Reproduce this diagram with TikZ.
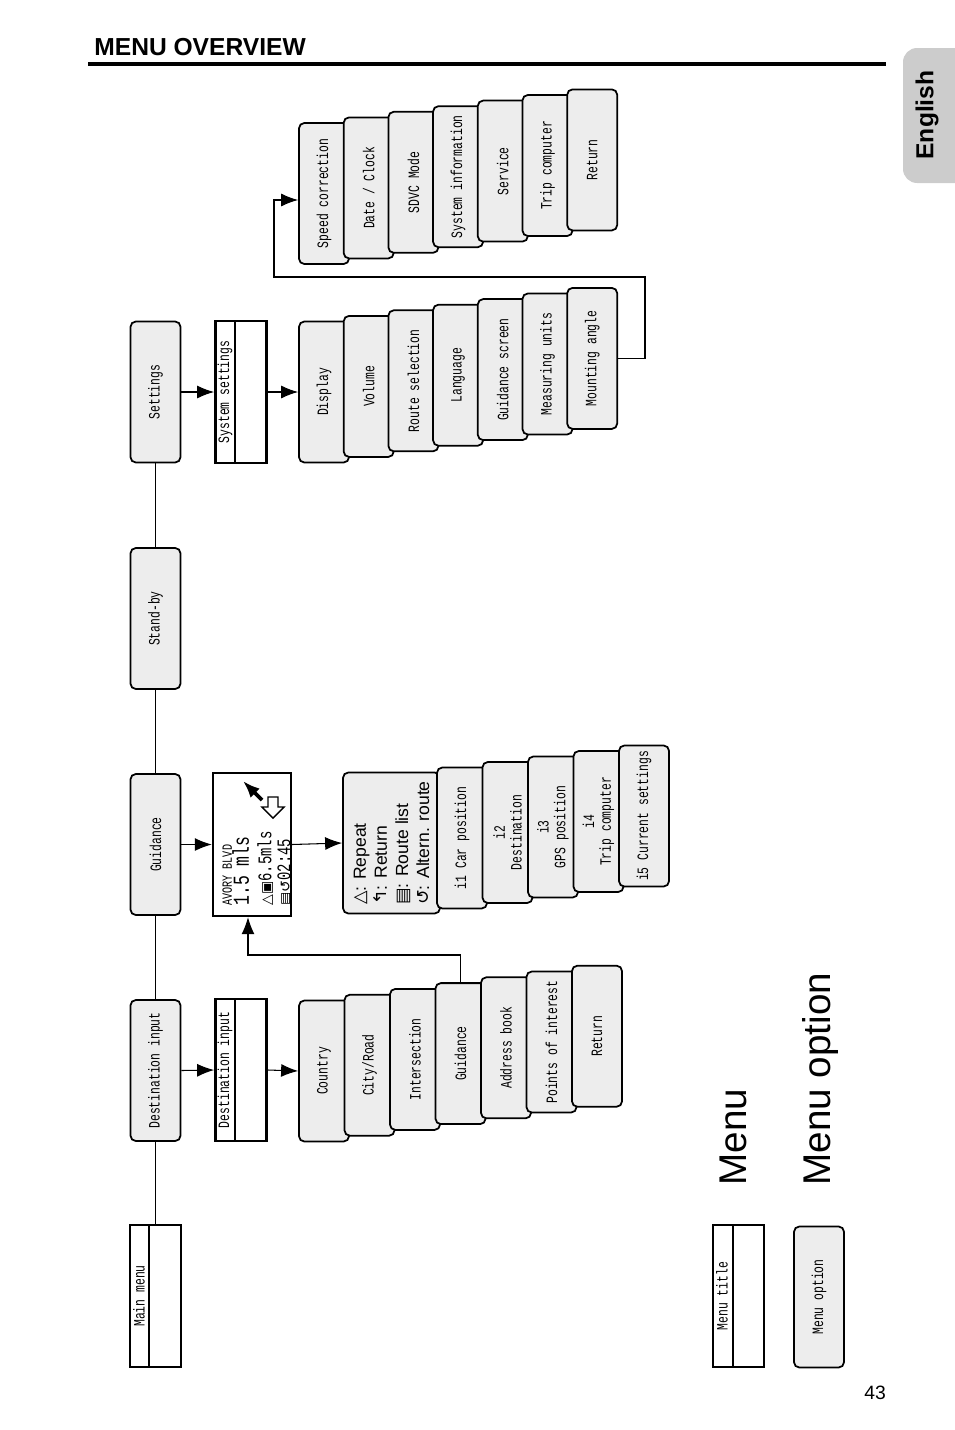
\documentclass[tikz,border=0pt]{standalone}
\usepackage{fontspec}
\setmainfont{Liberation Sans}
\newfontfamily\lcd[FakeStretch=0.72]{Liberation Mono}
\newfontfamily\symb{DejaVu Sans}
\usepackage{tikz}
\usetikzlibrary{arrows.meta}
\usetikzlibrary{calc}

\tikzset{
    optbox/.style={draw, line width=1pt, rounded corners=3pt, fill=gray!14, rotate=90,
        minimum width=2.82cm, minimum height=1cm, align=center,
        font=\lcd\fontsize{9}{9.5}\selectfont, inner sep=1pt},
    titlebox/.style={draw, line width=1.6pt, rotate=90, minimum width=2.84cm, minimum height=1.02cm},
    lcdtext/.style={rotate=90, font=\lcd\fontsize{9}{9.5}\selectfont},
    arr/.style={-{Latex[length=3.4mm,width=2.6mm]}}
}

\begin{document}
\begin{tikzpicture}[x=0.02cm, y=-0.02cm, line width=0.6pt]
        \useasboundingbox (0,0) rectangle (954,1430);

        % header
        \node[anchor=base west, font=\bfseries\fontsize{14}{16}\selectfont] (head) at (88,55) {MENU OVERVIEW};
        \draw[line width=2.2pt] (88,64) -- (886,64);
        \fill[gray!40, rounded corners=8pt] (903,48) rectangle (975,183);
        \node[rotate=90, font=\bfseries\fontsize{14}{16}\selectfont] (lang) at (927,115) {English};
        \node[font=\fontsize{11}{13}\selectfont] (page) at (875,1393) {43};

        % main menu column
        \node[titlebox] (main) at (155.5,1296) {};
        \draw[line width=1.6pt] (149,1225) -- (149,1367);
        \node[lcdtext] at (139,1296) {Main menu};

        \node[optbox] (dest) at (155.5,1070.5) {Destination input};
        \node[optbox] (guid) at (155.5,844.5) {Guidance};
        \node[optbox] (stby) at (155.5,618.5) {Stand-by};
        \node[optbox] (sett) at (155.5,392) {Settings};
        \draw (main.east) -- (dest.west);
        \draw (dest.east) -- (guid.west);
        \draw (guid.east) -- (stby.west);
        \draw (stby.east) -- (sett.west);

        % destination input
        \node[titlebox] (dtitle) at (241,1070) {};
        \draw[line width=1.6pt] (235,999) -- (235,1141);
        \node[lcdtext] at (225,1070) {Destination input};
        \draw[arr] (dest.south) -- (dtitle.north);
        \foreach \t [count=\i from 0] in {Country, City/Road, Intersection, Guidance,
                Address book, Points of interest, Return}
            \node[optbox] (dst\i) at (324+45.5*\i, 1071-5.8*\i) {\t};
        \draw[arr] (dtitle.south) -- (dst0.north);

        % guidance screen
        \node[draw, line width=1.4pt, minimum width=1.56cm, minimum height=2.86cm] (scr) at (252,844.5) {};
        \node[lcdtext, anchor=north west, align=left, font=\lcd\fontsize{8}{8}\selectfont] at (216,912) {AVORY BLVD};
        \node[lcdtext, anchor=north west, font=\lcd\fontsize{13}{13}\selectfont] at (226,912) {1.5 mls};
        \node[lcdtext, anchor=north west, font=\lcd\fontsize{11}{11}\selectfont] at (251,912) {{\symb\fontsize{8}{8}\selectfont△▣}6.5mls};
        \node[lcdtext, anchor=north west, font=\lcd\fontsize{11}{11}\selectfont] at (271,912) {{\symb\fontsize{8}{8}\selectfont▤↺}02:45};
        \draw[arr, line width=2.2pt] (262,800) -- (243,781);
        \draw[line width=0.8pt, fill=white] (268,807) -- (268,797) -- (278,797) -- (278,807) -- (284,807)
            -- (273,818) -- (262,807) -- cycle;
        \draw[arr] (guid.south) -- (scr.west);
        \node[optbox, minimum height=1.94cm, font=\fontsize{10}{12}\selectfont, align=left] (gopt) at (391.5,843)
            {{\symb △}: Repeat\\ {\symb ↰}: Return\\ {\symb ▤}: Route list\\ {\symb ↺}: Altern. route};
        \draw[arr] (scr.east) -- (gopt.north);
        \foreach \t [count=\i from 0] in {i1 Car position, i2\\Destination, i3\\GPS position,
                i4\\Trip computer, i5 Current settings}
            \node[optbox] (gi\i) at (462+45.5*\i, 838-5.5*\i) {\t};
        \coordinate (gbend) at (248,955);
        \draw[arr] (dst3.east) |- (gbend) -- (gbend |- scr.south);

        % settings
        \node[titlebox] (stitle) at (241,392) {};
        \draw[line width=1.6pt] (235,321) -- (235,463);
        \node[lcdtext] at (225,392) {System settings};
        \draw[arr] (sett.south) -- (stitle.north);
        \foreach \t [count=\i from 0] in {Display, Volume, Route selection, Language,
                Guidance screen, Measuring units, Mounting angle}
            \node[optbox] (set\i) at (324+44.7*\i, 392-5.6*\i) {\t};
        \draw[arr] (stitle.south) -- (set0.north);
        \foreach \t [count=\i from 0] in {Speed correction, Date / Clock, SDVC Mode,
                System information, Service, Trip computer, Return}
            \node[optbox] (sys\i) at (324+44.7*\i, 193.5-5.6*\i) {\t};
        \coordinate (sbend) at (274,200);
        \draw[arr] (set6.south) -| (645,277) -| (sbend) -- (sbend -| sys0.north);

        % legend
        \node[titlebox] (lgtitle) at (738.5,1296) {};
        \draw[line width=1.6pt] (733,1225) -- (733,1367);
        \node[lcdtext] at (722,1296) {Menu title};
        \node[optbox] (lgopt) at (819,1297) {Menu option};
        \node[rotate=90, anchor=west, font=\fontsize{22}{24}\selectfont] (lgm) at (733,1192) {Menu};
        \node[rotate=90, anchor=west, font=\fontsize{22}{24}\selectfont] (lgo) at (820,1192) {Menu option};
    \end{tikzpicture}
\end{document}
